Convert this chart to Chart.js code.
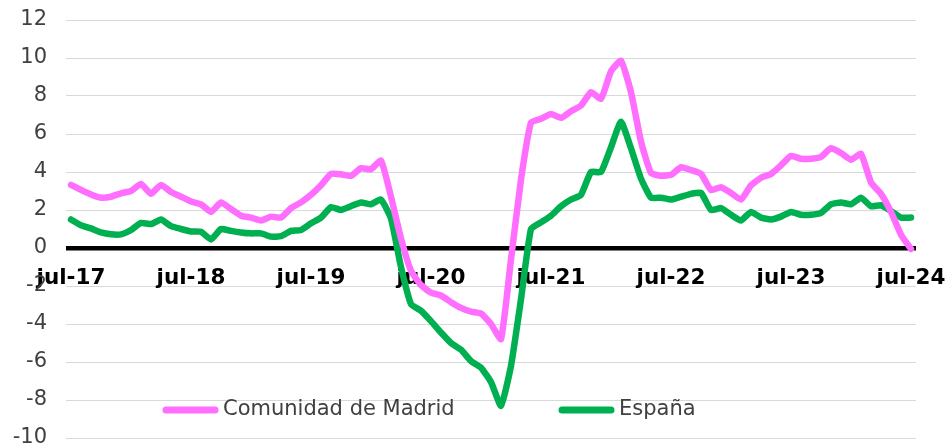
<!DOCTYPE html>
<html><head><meta charset="utf-8">
<script src="https://cdn.jsdelivr.net/npm/chart.js@4/dist/chart.umd.min.js"></script>
<style>html,body{margin:0;padding:0;background:#fff}#wrap{width:951px;height:447px;position:relative}</style>
</head><body><div id="wrap"><canvas id="c"></canvas></div>
<script>
const categories = [
 'jul-17','ago-17','sep-17','oct-17','nov-17','dic-17','ene-18','feb-18','mar-18','abr-18','may-18','jun-18',
 'jul-18','ago-18','sep-18','oct-18','nov-18','dic-18','ene-19','feb-19','mar-19','abr-19','may-19','jun-19',
 'jul-19','ago-19','sep-19','oct-19','nov-19','dic-19','ene-20','feb-20','mar-20','abr-20','may-20','jun-20',
 'jul-20','ago-20','sep-20','oct-20','nov-20','dic-20','ene-21','feb-21','mar-21','abr-21','may-21','jun-21',
 'jul-21','ago-21','sep-21','oct-21','nov-21','dic-21','ene-22','feb-22','mar-22','abr-22','may-22','jun-22',
 'jul-22','ago-22','sep-22','oct-22','nov-22','dic-22','ene-23','feb-23','mar-23','abr-23','may-23','jun-23',
 'jul-23','ago-23','sep-23','oct-23','nov-23','dic-23','ene-24','feb-24','mar-24','abr-24','may-24','jun-24',
 'jul-24'];
const madrid = [
 3.32,3.06,2.82,2.65,2.70,2.88,3.00,3.37,2.85,3.32,2.95,2.70,
 2.45,2.30,1.90,2.40,2.05,1.70,1.60,1.45,1.65,1.60,2.10,2.40,
 2.80,3.30,3.90,3.88,3.80,4.20,4.15,4.60,2.70,0.50,-1.20,-1.95,
 -2.35,-2.50,-2.85,-3.15,-3.35,-3.45,-4.00,-4.80,-0.60,3.60,6.60,6.80,
 7.05,6.85,7.20,7.50,8.20,7.85,9.30,9.85,8.20,5.60,3.95,3.80,
 3.85,4.25,4.10,3.90,3.05,3.20,2.90,2.55,3.30,3.70,3.90,4.35,
 4.85,4.70,4.70,4.80,5.25,5.00,4.65,4.95,3.45,2.85,1.90,0.70,
 -0.05];
const espana = [
 1.50,1.20,1.03,0.82,0.72,0.72,0.95,1.32,1.26,1.50,1.15,1.00,
 0.87,0.85,0.45,1.00,0.90,0.82,0.77,0.77,0.60,0.62,0.90,0.95,
 1.30,1.60,2.15,2.00,2.20,2.40,2.30,2.55,1.55,-1.00,-2.95,-3.30,
 -3.85,-4.45,-5.00,-5.35,-5.95,-6.30,-7.05,-8.30,-6.20,-2.70,1.00,1.35,
 1.70,2.20,2.55,2.80,4.00,4.00,5.30,6.65,5.25,3.65,2.65,2.65,
 2.55,2.70,2.85,2.90,2.00,2.10,1.75,1.45,1.90,1.60,1.50,1.65,
 1.90,1.75,1.75,1.85,2.30,2.40,2.30,2.65,2.20,2.25,1.95,1.60,
 1.60];
const seriesNames = ['Comunidad de Madrid', 'España'];
const seriesColors = ['#FF6EFF', '#00B050'];
const shownTicks = ['jul-17','jul-18','jul-19','jul-20','jul-21','jul-22','jul-23','jul-24'];
const yMin = -10, yMax = 12, yStep = 2;

Chart.defaults.font.family = "'DejaVu Sans', Verdana, sans-serif";

const insideLegend = {
  id: 'insideLegend',
  afterDraw(chart) {
    const ctx = chart.ctx;
    const ca = chart.chartArea;
    const yc = ca.bottom - 28;
    const starts = [163, 559];
    ctx.save();
    ctx.font = "21px 'DejaVu Sans', Verdana, sans-serif";
    ctx.textBaseline = 'middle';
    chart.data.datasets.forEach((ds, i) => {
      const x0 = starts[i];
      ctx.strokeStyle = ds.borderColor;
      ctx.lineWidth = 7;
      ctx.lineCap = 'round';
      ctx.beginPath();
      ctx.moveTo(x0 + 3, yc);
      ctx.lineTo(x0 + 52, yc);
      ctx.stroke();
      ctx.fillStyle = '#404040';
      ctx.fillText(ds.label, x0 + 60, yc);
    });
    ctx.restore();
  }
};

new Chart(document.getElementById('c'), {
  type: 'line',
  data: {
    labels: categories,
    datasets: [
      { label: seriesNames[0], data: madrid, borderColor: seriesColors[0], backgroundColor: seriesColors[0] },
      { label: seriesNames[1], data: espana, borderColor: seriesColors[1], backgroundColor: seriesColors[1] }
    ]
  },
  options: {
    responsive: true,
    maintainAspectRatio: false,
    devicePixelRatio: 1,
    animation: false,
    layout: { padding: { left: 0, right: 35, top: 20, bottom: 9 } },
    elements: {
      point: { radius: 0, hoverRadius: 0 },
      line: { borderWidth: 6.5, tension: 0.15, borderJoinStyle: 'round', borderCapStyle: 'round', fill: false }
    },
    plugins: { legend: { display: false }, tooltip: { enabled: false } },
    scales: {
      x: {
        type: 'category',
        offset: true,
        position: { y: 0 },
        z: 1,
        grid: { display: false, drawTicks: true, tickLength: 18 },
        border: { display: false },
        ticks: {
          autoSkip: false, maxRotation: 0, minRotation: 0, padding: 0,
          color: '#000', font: { size: 21.5, weight: 'bold' },
          callback: function(v, i) { const l = categories[i]; return shownTicks.includes(l) ? l : ''; }
        },
        afterFit: s => { s.height = 0; }
      },
      y: {
        min: yMin, max: yMax,
        ticks: { stepSize: yStep, padding: 0, color: '#404040', font: { size: 21, lineHeight: 0.8 } },
        grid: {
          drawTicks: true,
          tickLength: 19,
          tickColor: 'rgba(0,0,0,0)',
          color: c => c.tick && c.tick.value === 0 ? '#000' : '#d9d9d9',
          lineWidth: c => c.tick && c.tick.value === 0 ? 4.5 : 1
        },
        border: { display: false },
        afterFit: s => { s.width = 66; }
      }
    }
  },
  plugins: [insideLegend]
});
</script>
</body></html>
